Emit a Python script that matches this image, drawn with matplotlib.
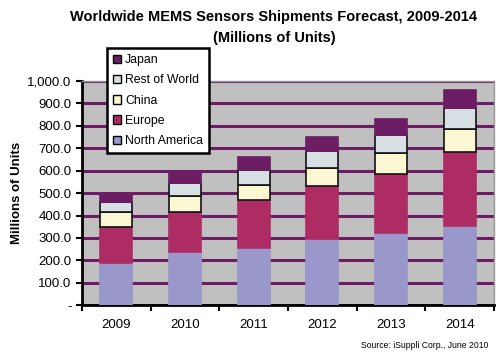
import numpy as np
import matplotlib.pyplot as plt

# ----------------------------- DATA -------------------------------------------
years = ['2009', '2010', '2011', '2012', '2013', '2014']
north_america = [187, 235, 254, 296, 324, 351]
europe = [160, 181, 214, 235, 262, 334]
china = [67, 70, 70, 82, 94, 100]
rest_of_world = [45, 57, 64, 73, 78, 93]
japan = [35, 48, 60, 64, 72, 82]

series = [('North America', north_america, '#9a97cb', '#9a97cb'),
          ('Europe', europe, '#ad2c63', '#ad2c63'),
          ('China', china, '#fbf7d2', '#111111'),
          ('Rest of World', rest_of_world, '#d6dfe3', '#111111'),
          ('Japan', japan, '#6d1d63', '#6d1d63')]

plt.rcParams['font.family'] = ['Liberation Sans', 'DejaVu Sans']

# ----------------------------- PLOTTING ---------------------------------------
fig = plt.figure(figsize=(5.0, 3.54), dpi=100)
ax = fig.add_axes([0.164, 0.138, 0.824, 0.633])
ax.set_facecolor('#c0c0c0')

x = np.arange(len(years))
bottom = np.zeros(len(years))
handles = []
for name, vals, color, edge in series:
    b = ax.bar(x, vals, 0.47, bottom=bottom, color=color, edgecolor=edge,
               linewidth=1.2, zorder=3, label=name)
    handles.append(b)
    bottom += np.array(vals)

ax.set_ylim(0, 1000)
ax.set_xlim(-0.5, len(years) - 0.5)
yt = np.arange(0, 1001, 100)
ax.set_yticks(yt)
ax.set_yticklabels(['-'] + [f'{v:,.1f}' for v in yt[1:]], fontsize=9.5)
ax.yaxis.grid(True, color='#6d1d63', linewidth=2.2, zorder=1)
ax.set_axisbelow(True)

# ticks between categories, labels in the middle
ax.set_xticks(np.arange(-0.5, len(years), 1.0))
ax.set_xticklabels([])
ax.set_xticks(x, minor=True)
ax.set_xticklabels(years, minor=True, fontsize=9.5)
ax.tick_params(axis='x', which='minor', length=0, pad=10)
ax.tick_params(axis='x', which='major', direction='out', length=4, width=1.5, color='black')
ax.tick_params(axis='y', direction='out', length=4, width=1.5, color='black')

for side in ['left', 'bottom']:
    ax.spines[side].set_linewidth(2)
    ax.spines[side].set_color('black')
for side in ['top', 'right']:
    ax.spines[side].set_color('#999999')
    ax.spines[side].set_linewidth(1)

ax.set_ylabel('Millions of Units', fontsize=9.5, fontweight='bold', labelpad=3)

leg = ax.legend(handles[::-1], [s[0] for s in series][::-1], loc='upper left',
                bbox_to_anchor=(0.045, 1.175), fontsize=8.8, frameon=True,
                fancybox=False, framealpha=1.0, handlelength=0.7, handleheight=0.7,
                handletextpad=0.3, borderpad=0.5, labelspacing=0.68)
leg.get_frame().set_edgecolor('black')
leg.get_frame().set_linewidth(1.8)
leg.get_frame().set_facecolor('white')
leg.set_zorder(10)
for h in leg.legend_handles:
    h.set_edgecolor('black')
    h.set_linewidth(1.0)

fig.text(0.548, 0.953, 'Worldwide MEMS Sensors Shipments Forecast, 2009-2014',
         ha='center', va='center', fontsize=10.5, fontweight='bold')
fig.text(0.548, 0.893, '(Millions of Units)', ha='center', va='center',
         fontsize=10.5, fontweight='bold')
fig.text(0.976, 0.025, 'Source: iSuppli Corp., June 2010', ha='right',
         va='center', fontsize=6.2)

fig.savefig('out.png', dpi=100)
